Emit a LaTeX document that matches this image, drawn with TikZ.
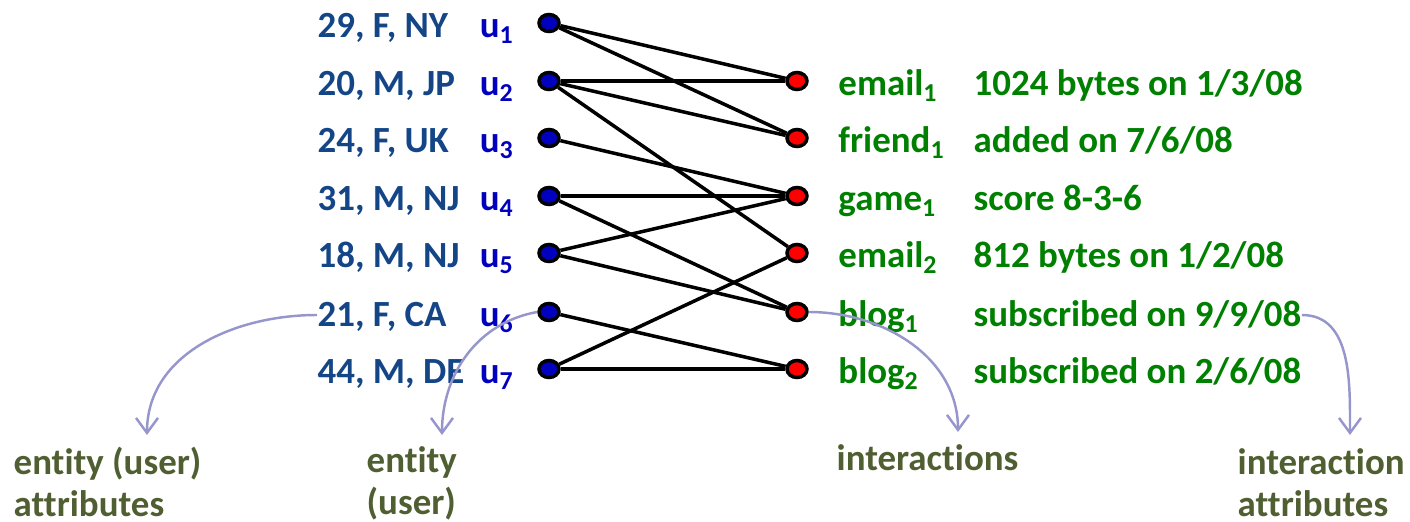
\documentclass[tikz,border=0pt]{standalone}
\usepackage{fontspec}
\setmainfont{Carlito}[Ligatures=NoCommon]
\usetikzlibrary{arrows.meta, positioning, shapes.geometric}
\definecolor{attrblue}{RGB}{20,70,135}
\definecolor{userblue}{RGB}{0,0,190}
\definecolor{actgreen}{RGB}{0,128,0}
\definecolor{noteolive}{RGB}{80,95,50}
\definecolor{notelilac}{RGB}{150,150,205}
\tikzset{
  user/.style={draw, ellipse, fill=userblue, line width=1pt,
    minimum width=0.2cm, minimum height=0.17cm, inner sep=0pt},
  act/.style={user, fill=red},
  lbl/.style={inner sep=0pt, font=\fontsize{10.5}{12}\selectfont\bfseries,
    text height=6.8pt, text depth=0pt, yshift=-0.03cm},
  uattr/.style={lbl, anchor=west, text=attrblue},
  uname/.style={lbl, text=userblue},
  aname/.style={lbl, text=actgreen},
  aattr/.style={lbl, anchor=west, text=actgreen},
  note/.style={inner sep=0pt, align=left, anchor=north west, text=noteolive,
    font=\fontsize{10.5}{12}\selectfont\bfseries},
  edge/.style={line width=1pt},
  pointer/.style={notelilac, line width=0.7pt,
    -{Straight Barb[length=1.5mm,width=2.2mm]}}
}

\begin{document}
\begin{tikzpicture}
\useasboundingbox (0,0) rectangle (14.1,5.22);

\node[user] (u1) at (5.49,4.99) {};
\node[user] (u2) at (5.49,4.41) {};
\node[user] (u3) at (5.49,3.84) {};
\node[user] (u4) at (5.49,3.26) {};
\node[user] (u5) at (5.49,2.69) {};
\node[user] (u6) at (5.49,2.10) {};
\node[user] (u7) at (5.49,1.53) {};

\node[act] (email1) at (7.97,4.41) {};
\node[act] (friend1) at (7.97,3.84) {};
\node[act] (game1) at (7.97,3.26) {};
\node[act] (email2) at (7.97,2.69) {};
\node[act] (blog1) at (7.97,2.10) {};
\node[act] (blog2) at (7.97,1.53) {};

\node[uname, left=0.22cm of u1] (n1) {u\textsubscript{1}};
\node[uname, left=0.22cm of u2] (n2) {u\textsubscript{2}};
\node[uname, left=0.22cm of u3] (n3) {u\textsubscript{3}};
\node[uname, left=0.22cm of u4] (n4) {u\textsubscript{4}};
\node[uname, left=0.22cm of u5] (n5) {u\textsubscript{5}};
\node[uname, left=0.22cm of u6] (n6) {u\textsubscript{6}};
\node[uname, left=0.22cm of u7] (n7) {u\textsubscript{7}};

\node[uattr] (a1) at (3.17,4.99) {29, F, NY};
\node[uattr] (a2) at (3.17,4.41) {20, M, JP};
\node[uattr] (a3) at (3.17,3.84) {24, F, UK};
\node[uattr] (a4) at (3.17,3.26) {31, M, NJ};
\node[uattr] (a5) at (3.17,2.69) {18, M, NJ};
\node[uattr] (a6) at (3.17,2.10) {21, F, CA};
\node[uattr] (a7) at (3.17,1.53) {44, M, DE};

\node[aname, right=0.29cm of email1] (m1) {email\textsubscript{1}};
\node[aname, right=0.29cm of friend1] (m2) {friend\textsubscript{1}};
\node[aname, right=0.29cm of game1] (m3) {game\textsubscript{1}};
\node[aname, right=0.29cm of email2] (m4) {email\textsubscript{2}};
\node[aname, right=0.29cm of blog1] (m5) {blog\textsubscript{1}};
\node[aname, right=0.29cm of blog2] (m6) {blog\textsubscript{2}};

\node[aattr] (d1) at (9.73,4.41) {1024 bytes on 1/3/08};
\node[aattr] (d2) at (9.73,3.84) {added on 7/6/08};
\node[aattr] (d3) at (9.73,3.26) {score 8-3-6};
\node[aattr] (d4) at (9.73,2.69) {812 bytes on 1/2/08};
\node[aattr] (d5) at (9.73,2.10) {subscribed on 9/9/08};
\node[aattr] (d6) at (9.73,1.53) {subscribed on 2/6/08};

\draw[edge] (u1) -- (email1);
\draw[edge] (u1) -- (friend1);
\draw[edge] (u2) -- (email1);
\draw[edge] (u2) -- (friend1);
\draw[edge] (u2) -- (email2);
\draw[edge] (u3) -- (game1);
\draw[edge] (u4) -- (game1);
\draw[edge] (u4) -- (blog1);
\draw[edge] (u5) -- (game1);
\draw[edge] (u5) -- (blog1);
\draw[edge] (u6) -- (blog2);
\draw[edge] (u7) -- (email2);
\draw[edge] (u7) -- (blog2);

\coordinate (t1) at (1.47,0.87);
\coordinate (t2) at (4.42,0.87);
\coordinate (t3) at (9.58,0.90);
\coordinate (t4) at (13.50,0.87);

\draw[pointer] (a6.west) to[out=180, in=90] (t1);
\draw[pointer] (u6.west) to[out=190, in=90] (t2);
\draw[pointer] (blog1.east) to[out=0, in=90] (t3);
\draw[pointer] (d5.east) to[out=0, in=90] (t4);

\node[note] (k1) at (0.13,0.76) {entity (user)\\attributes};
\node[note] (k2) at (3.66,0.76) {entity\\(user)};
\node[note] (k3) at (8.36,0.78) {interactions};
\node[note] (k4) at (12.37,0.74) {interaction\\attributes};
\end{tikzpicture}
\end{document}
